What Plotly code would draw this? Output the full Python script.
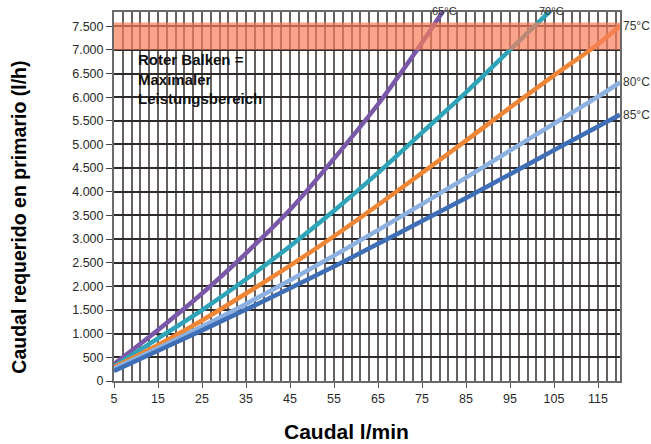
import plotly.graph_objects as go

# ---- data ----
x_65 = [5, 15, 25, 35, 45, 55, 65, 75, 80]
y_65 = [360, 1080, 1850, 2700, 3620, 4700, 5850, 7150, 7850]

x_70 = [5, 15, 25, 35, 45, 55, 65, 75, 85, 95, 105]
y_70 = [310, 900, 1500, 2150, 2850, 3600, 4400, 5250, 6100, 7000, 7900]

x_75 = [5, 15, 25, 35, 45, 55, 65, 75, 85, 95, 105, 115, 120]
y_75 = [290, 760, 1280, 1850, 2440, 3060, 3720, 4400, 5080, 5780, 6460, 7120, 7510]

x_80 = [5, 15, 25, 35, 45, 55, 65, 75, 85, 95, 105, 115, 120]
y_80 = [260, 690, 1150, 1630, 2130, 2650, 3190, 3740, 4300, 4870, 5440, 6010, 6310]

x_85 = [5, 15, 25, 35, 45, 55, 65, 75, 85, 95, 105, 115, 120]
y_85 = [210, 640, 1070, 1510, 1960, 2420, 2900, 3380, 3870, 4370, 4880, 5380, 5630]

series_names = ["65°C", "70°C", "75°C", "80°C", "85°C"]
series_colors = ["#7a58a8", "#2fa4b8", "#ee8636", "#8cb0e0", "#3d6eb6"]

x_ticks = [5, 15, 25, 35, 45, 55, 65, 75, 85, 95, 105, 115]
y_ticks = list(range(0, 7501, 500))
y_ticktext = ["0", "500", "1.000", "1.500", "2.000", "2.500", "3.000", "3.500",
              "4.000", "4.500", "5.000", "5.500", "6.000", "6.500", "7.000", "7.500"]

band_low, band_high = 7000, 7580

FONT = "Liberation Sans, Arial, sans-serif"

fig = go.Figure()
for xs, ys, name, col in zip([x_65, x_70, x_75, x_80, x_85],
                             [y_65, y_70, y_75, y_80, y_85],
                             series_names, series_colors):
    fig.add_trace(go.Scatter(x=xs, y=ys, mode="lines", name=name,
                             line=dict(color=col, width=4.5, shape="spline"),
                             showlegend=False, cliponaxis=True))

# red band (semi-transparent, above the curves)
fig.add_shape(type="rect", xref="x", yref="y", x0=5, x1=120, y0=band_low, y1=band_high,
              fillcolor="rgba(246,125,90,0.70)", line_width=0, layer="above")

# curve labels
ann = []
for name, xv in zip(["65°C", "70°C"], [80, 104.5]):
    ann.append(dict(text=name, xref="x", yref="paper", x=xv, y=1.0, yshift=9,
                    xanchor="center", yanchor="top", showarrow=False,
                    font=dict(size=11, color="#333", family=FONT)))
for name, yv in zip(["75°C", "80°C", "85°C"], [y_75[-1], y_80[-1], y_85[-1]]):
    ann.append(dict(text=name, xref="paper", yref="y", x=1.0, y=yv, xanchor="left",
                    yanchor="middle", xshift=1, showarrow=False,
                    font=dict(size=12, color="#333", family=FONT)))

ann.append(dict(text="<b>Roter Balken =<br>Maximaler<br>Leistungsbereich</b>",
                xref="x", yref="y", x=10, y=7020, xanchor="left", yanchor="top",
                align="left", showarrow=False,
                font=dict(size=15, color="#111", family=FONT)))

# axis titles
ann.append(dict(text="<b>Caudal requerido en primario (l/h)</b>", xref="paper", yref="paper",
                x=-0.188, y=0.445, xanchor="center", yanchor="middle", textangle=-90,
                showarrow=False, font=dict(size=19.5, color="#000", family=FONT)))
ann.append(dict(text="<b>Caudal l/min</b>", xref="paper", yref="paper",
                x=0.46, y=-0.138, xanchor="center", yanchor="middle",
                showarrow=False, font=dict(size=21, color="#000", family=FONT)))

fig.update_layout(
    width=651, height=444, autosize=False,
    margin=dict(l=114, r=31, t=10, b=63, pad=0),
    paper_bgcolor="white", plot_bgcolor="white",
    font=dict(family=FONT, size=12, color="#333"),
    annotations=ann,
    xaxis=dict(range=[5, 120], tickvals=x_ticks, ticktext=[str(v) for v in x_ticks],
               ticks="outside", ticklen=5, tickcolor="#555", tickwidth=1,
               showgrid=True, gridcolor="#666060", gridwidth=1.5,
               minor=dict(tick0=5, dtick=2, showgrid=True, gridcolor="#666060", gridwidth=1.5),
               showline=True, linecolor="#6a6a6a", linewidth=2, mirror=True,
               zeroline=False, tickfont=dict(size=12.5, color="#2a2a2a", family=FONT)),
    yaxis=dict(range=[0, 7800], tickvals=y_ticks, ticktext=y_ticktext,
               ticks="outside", ticklen=6, tickcolor="#444", tickwidth=1,
               showgrid=True, gridcolor="#2e2a2a", gridwidth=1.6,
               showline=True, linecolor="#6a6a6a", linewidth=2, mirror=True,
               zeroline=False, tickfont=dict(size=12.5, color="#2a2a2a", family=FONT)),
)

fig.write_html("out.html", config={"displayModeBar": False},
               post_script="document.body.style.margin='0';")
